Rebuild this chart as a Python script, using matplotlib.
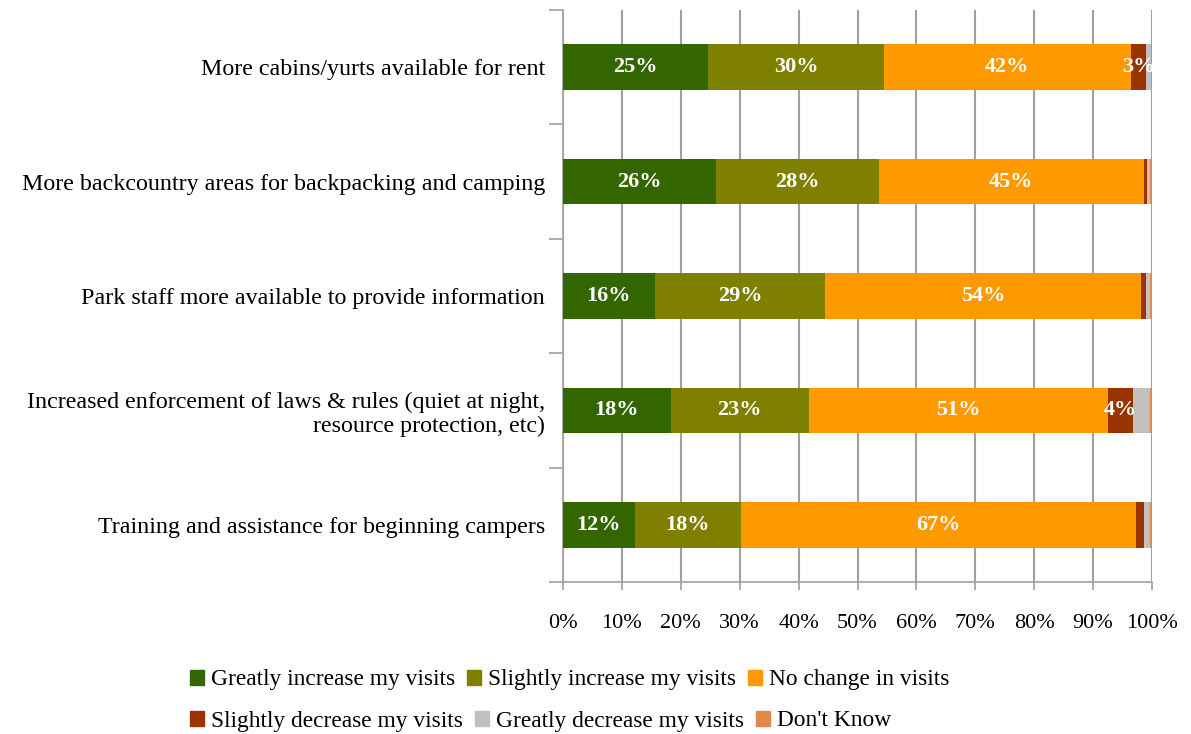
import numpy as np
import matplotlib.pyplot as plt
from matplotlib.patches import Patch

plt.rcParams['font.family'] = ['Liberation Serif', 'DejaVu Serif']

# Survey items (top to bottom)
categories = [
    "More cabins/yurts available for rent",
    "More backcountry areas for backpacking and camping",
    "Park staff more available to provide information",
    "Increased enforcement of laws & rules (quiet at night,\nresource protection, etc)",
    "Training and assistance for beginning campers",
]

series = ["Greatly increase my visits", "Slightly increase my visits",
          "No change in visits", "Slightly decrease my visits",
          "Greatly decrease my visits", "Don't Know"]
colors = ["#336600", "#808000", "#FF9900", "#993300", "#C0C0C0", "#E0894A"]

# Percentages, one list per response option
greatly_inc = [24.6, 26.0, 15.6, 18.3, 12.2]
slightly_inc = [29.9, 27.6, 28.9, 23.4, 18.0]
no_change = [41.9, 45.0, 53.7, 50.8, 67.0]
slightly_dec = [2.6, 0.5, 0.8, 4.3, 1.4]
greatly_dec = [0.8, 0.6, 0.6, 2.9, 1.0]
dont_know = [0.2, 0.3, 0.4, 0.3, 0.4]

values = [greatly_inc, slightly_inc, no_change, slightly_dec, greatly_dec, dont_know]
labelled = [True, True, True, True, False, False]

fig = plt.figure(figsize=(11.91, 7.34), dpi=100)
ax = fig.add_axes([563 / 1191, 1 - 582 / 734, 589 / 1191, 572 / 734])

y = np.arange(len(categories))
left = np.zeros(len(categories))
for vals, col, name, lab in zip(values, colors, series, labelled):
    vals = np.array(vals)
    ax.barh(y, vals, left=left, height=0.4, color=col, label=name, zorder=3)
    if lab:
        for yi, l, v in zip(y, left, vals):
            if v >= 2.5:
                ax.text(l + v / 2, yi, f"{v:.0f}%", ha='center', va='center',
                        color='white', fontsize=16, fontweight='bold', zorder=4)
    left += vals

ax.set_xlim(0, 100)
ax.set_ylim(len(categories) - 0.5, -0.5)
ax.set_xticks(np.arange(0, 101, 10))
ax.set_xticklabels([f"{t}%" for t in range(0, 101, 10)], fontsize=16)
ax.set_yticks(y)
ax.set_yticklabels(categories, fontsize=17.3, linespacing=1.2)
ax.set_yticks(np.arange(-0.5, len(categories)), minor=True)
ax.tick_params(axis='y', which='major', length=0, pad=13)
ax.tick_params(axis='y', which='minor', length=10, color='#A0A0A0', width=1.2)
ax.tick_params(axis='x', length=6, color='#A0A0A0', width=1.2, pad=17)
ax.xaxis.grid(True, color='#A0A0A0', linewidth=1.5, zorder=0)
for s in ['top', 'right']:
    ax.spines[s].set_visible(False)
for s in ['left', 'bottom']:
    ax.spines[s].set_color('#A0A0A0')
    ax.spines[s].set_linewidth(1.2)

handles = [Patch(color=c) for c in colors]
leg_kw = dict(loc='center left', ncol=3, frameon=False, fontsize=16.8,
              handlelength=0.6, handleheight=0.6, handletextpad=0.3,
              columnspacing=0.5, borderpad=0.2)
fig.legend(handles[:3], series[:3],
           bbox_to_anchor=(174 / 1191, 1 - 680 / 734), **leg_kw)
fig.legend(handles[3:], series[3:],
           bbox_to_anchor=(174 / 1191, 1 - 721 / 734), **leg_kw)

fig.savefig("out.png", dpi=100)
